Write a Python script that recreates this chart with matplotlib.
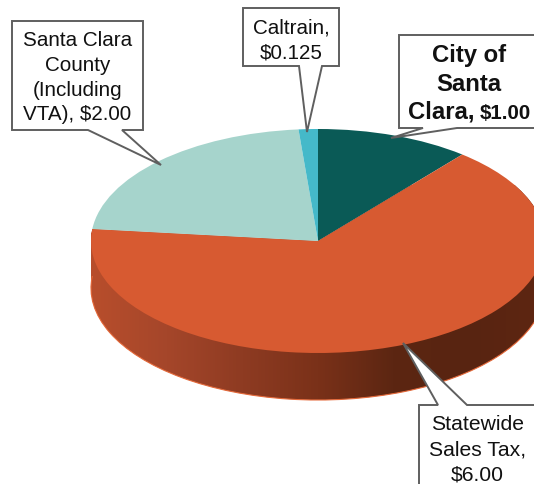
import numpy as np
import matplotlib
matplotlib.use("Agg")
import matplotlib.pyplot as plt
from matplotlib.colors import LinearSegmentedColormap
from matplotlib.patches import PathPatch, Polygon, Arc
from matplotlib.path import Path

categories = ["City of Santa Clara", "Statewide Sales Tax", "Santa Clara County (Including VTA)", "Caltrain"]
values = [1.00, 6.00, 2.00, 0.125]
colors = ["#0A5A56", "#D75A31", "#A6D4CC", "#45B9C9"]

W, H = 534, 484
CX, CY, RX, RY, DEPTH = 318, 241, 227, 112, 47

plt.rcParams["font.family"] = ["Liberation Sans", "DejaVu Sans"]
fig = plt.figure(figsize=(W / 100, H / 100), dpi=100, facecolor="white")
ax = fig.add_axes([0, 0, 1, 1])
limits = ((-CX / RX, (W - CX) / RX), (-(H - CY) / RY, CY / RY))
d = DEPTH / RY

# side wall of the largest slice: stacked copies of the slice, filled by a gradient
state = categories.index("Statewide Sales Tax")
paths = []
for off in np.linspace(d, 0, DEPTH + 1):
    wedges, _ = ax.pie(values, startangle=90, counterclock=False, radius=1, center=(0, -off))
    w = wedges[state]
    paths.append(w.get_patch_transform().transform_path(w.get_path()))
    for x in wedges:
        x.remove()
wall = Path.make_compound_path(*paths)
cmap = LinearSegmentedColormap.from_list(
    "wall", ["#B84E2C", "#A5462A", "#8E3B22", "#7A3119", "#5C2612", "#582411", "#5E2612"])
im = ax.imshow(np.linspace(0, 1, 256)[None, :], cmap=cmap, aspect="auto", zorder=1,
               extent=(-1, 1, -1 - d, 0.5))
im.set_clip_path(PathPatch(wall, transform=ax.transData))

theta1 = 90 - 360 * values[0] / sum(values) - 360 * values[1] / sum(values)
theta2 = 90 - 360 * values[0] / sum(values)
ax.add_patch(Arc((0, -d), 2, 2, theta1=theta1, theta2=theta2, color="#E4693A", lw=0.8, zorder=1.5))

# top surface
top, _ = ax.pie(values, colors=colors, startangle=90, counterclock=False, radius=1, center=(0, 0),
                wedgeprops={"linewidth": 0, "zorder": 2})
ax.set_aspect("auto")
ax.set_xlim(*limits[0])
ax.set_ylim(*limits[1])
ax.axis("off")

# callouts, laid out in pixel coordinates
ov = fig.add_axes([0, 0, 1, 1], facecolor="none")
ov.set_xlim(0, W)
ov.set_ylim(H, 0)
ov.axis("off")

edge = "#5F5F5F"
callouts = [
    [(12, 21), (143, 21), (143, 130), (122, 130), (161, 165), (88, 130), (12, 130)],
    [(243, 8), (339, 8), (339, 66), (322, 66), (307, 132), (299, 66), (243, 66)],
    [(399, 35), (540, 35), (540, 128), (457, 128), (391, 138), (423, 128), (399, 128)],
    [(419, 405), (438, 405), (403, 343), (467, 405), (540, 405), (540, 490), (419, 490)],
]
for pts in callouts:
    ov.add_patch(Polygon(pts, closed=True, facecolor="white", edgecolor=edge, lw=1.4, joinstyle="miter"))

tc = "#111111"
def lines(x, ys, rows, **kw):
    for y, r in zip(ys, rows):
        ov.text(x, y, r, ha="center", va="baseline", color=tc, **kw)

lines(77.5, [46, 71, 96, 120], ["Santa Clara", "County", "(Including", "VTA), $2.00"], fontsize=14.9)
lines(291, [33, 58], ["Caltrain,", "$0.125"], fontsize=14.9)
lines(469, [62, 91], ["City of", "Santa"], fontsize=17.2, fontweight="bold")
ov.text(474.5, 119, "Clara,", ha="right", va="baseline", color=tc, fontsize=17.2, fontweight="bold")
ov.text(480, 119, "$1.00", ha="left", va="baseline", color=tc, fontsize=14.8, fontweight="bold")
lines(477.5, [430, 455, 480], ["Statewide", "Sales Tax,", "$6.00"], fontsize=15.2)

fig.savefig("out.png", dpi=100, facecolor="white")
